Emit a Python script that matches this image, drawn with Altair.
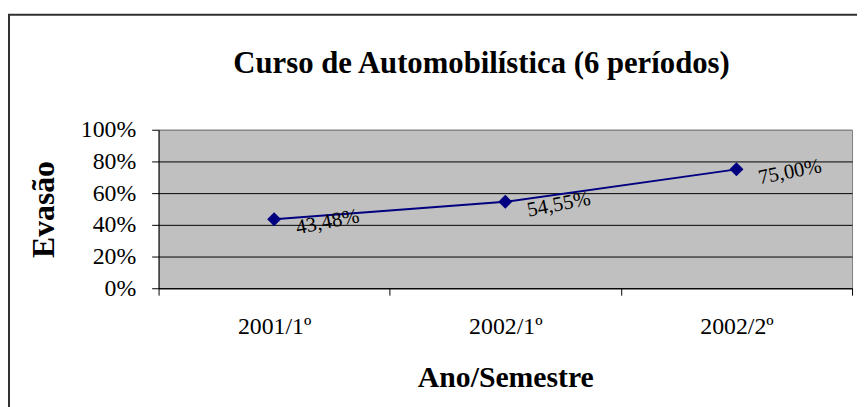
import altair as alt
import pandas as pd

title_text = "Curso de Automobilística (6 períodos)"
periods = ["2001/1º", "2002/1º", "2002/2º"]
evasao = [0.4348, 0.5455, 0.7500]
labels = [f"{v*100:.2f}%".replace(".", ",") for v in evasao]
y_ticks = [0, 0.2, 0.4, 0.6, 0.8, 1.0]

df = pd.DataFrame({"periodo": periods, "evasao": evasao, "rotulo": labels})

FONT = "Liberation Serif"

x_enc = alt.X(
    "periodo:N",
    sort=periods,
    bandPosition=0.5,
    scale=alt.Scale(type="band", paddingInner=0, paddingOuter=0),
    axis=alt.Axis(
        title="Ano/Semestre",
        labelAngle=0,
        tickBand="extent",
        tickSize=7,
        tickColor="#000000",
        domainColor="#000000",
        labelColor="#000000",
        labelFont=FONT,
        labelFontSize=24,
        labelPadding=20,
        titleFont=FONT,
        titleFontSize=30,
        titleFontWeight="bold",
        titleColor="#000000",
        titlePadding=24,
        grid=False,
    ),
)
y_enc = alt.Y(
    "evasao:Q",
    scale=alt.Scale(domain=[0, 1]),
    axis=alt.Axis(
        title="Evasão",
        format="%",
        values=y_ticks,
        grid=True,
        gridColor={"condition": {"test": "datum.value === 1", "value": "#808080"}, "value": "#000000"},
        gridWidth=1,
        tickSize=7,
        tickColor="#000000",
        domainColor="#000000",
        labelColor="#000000",
        labelFont=FONT,
        labelFontSize=24,
        labelPadding=16,
        titleFont=FONT,
        titleFontSize=32,
        titleFontWeight="bold",
        titleColor="#000000",
        titlePadding=20,
    ),
)

base = alt.Chart(df).encode(x=x_enc, y=y_enc)

frame = alt.Chart(alt.Data(values=[{}])).mark_rect(
    fill="transparent", stroke="#303030", strokeWidth=2
).encode(
    x=alt.value(-151), x2=alt.value(760), y=alt.value(-116), y2=alt.value(400)
)

title = alt.Chart(alt.Data(values=[{"t": title_text}])).mark_text(
    font=FONT, fontSize=31, fontWeight="bold", color="#000000",
    align="center", baseline="alphabetic"
).encode(text="t:N", x=alt.value(326), y=alt.value(-57))

line = base.mark_line(color="#000080", strokeWidth=2)
points = base.mark_point(shape="diamond", filled=True, size=200, color="#000080", opacity=1)
text = base.mark_text(
    font=FONT, fontSize=21, angle=349, align="center", baseline="middle",
    xOffset=54, yOffset=3, color="#000000"
).encode(text="rotulo:N")

chart = alt.layer(frame, title, line, points, text).properties(
    width=700,
    height=160,
    padding={"left": 152, "top": 121, "right": 5, "bottom": 118},
    autosize=alt.AutoSizeParams(type="none"),
    background="#FFFFFF",
).configure_view(fill="#C0C0C0", stroke="#808080", strokeWidth=1)

chart.save("out.html", embed_options={"renderer": "svg", "actions": False})
